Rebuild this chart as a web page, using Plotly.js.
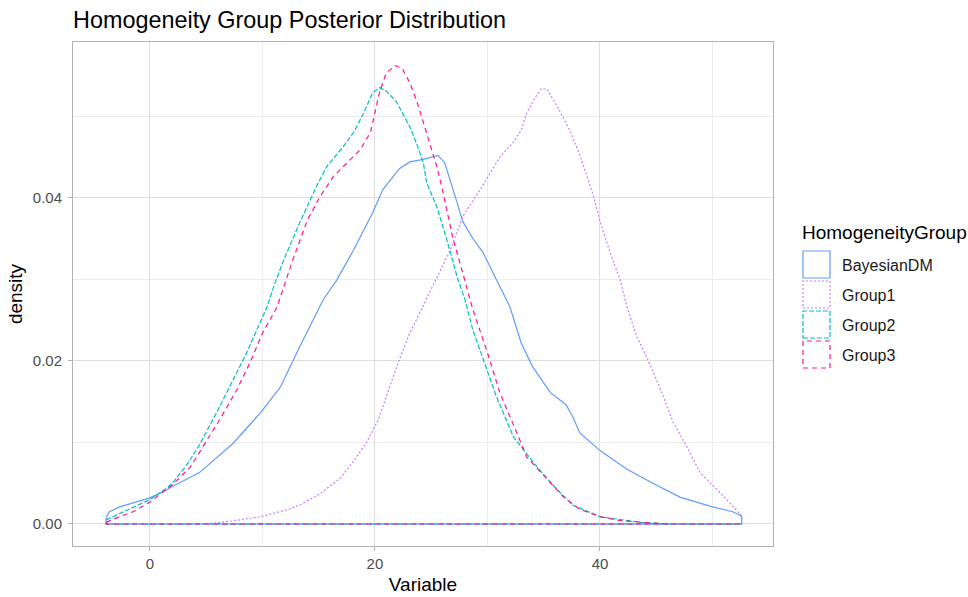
<!DOCTYPE html>
<html>
<head>
<meta charset="utf-8">
<script src="https://cdn.plot.ly/plotly-3.0.1.min.js"></script>
<style>
html,body{margin:0;padding:0;background:#fff;}
#chart{width:968px;height:597px;}
</style>
</head>
<body>
<div id="chart"></div>
<script>
// ---- data ----
const groups = ["BayesianDM", "Group1", "Group2", "Group3"];
const colors = ["#619CFF", "#C77CFF", "#00BFC4", "#FF1493"];
const dashes = ["solid", "2px,2px", "5px,2px", "5px,4px"];

const bayesX = [-3.9, -3.6, -2.7, -1.5, 0, 1.5, 2.0, 4.4, 7.4, 9.8, 11.6, 13.3, 15.4, 16.6, 18.1, 19.8, 20.7, 22.2, 23.1, 24.3, 25.6, 26.2, 26.7, 27.3, 27.8, 28.7, 29.6, 30.8, 32.0, 33.0, 34.0, 35.6, 37.0, 37.6, 38.2, 40.0, 42.4, 44.7, 47.1, 50.0, 51.8, 52.4, 52.6];
const bayesY = [0.0008, 0.0015, 0.0021, 0.0026, 0.0032, 0.0042, 0.0046, 0.0063, 0.0099, 0.0136, 0.0168, 0.0217, 0.0275, 0.0299, 0.0336, 0.0382, 0.0410, 0.0436, 0.0444, 0.0447, 0.0452, 0.0443, 0.0422, 0.0394, 0.0371, 0.0350, 0.0333, 0.0299, 0.0266, 0.0222, 0.0193, 0.0161, 0.0146, 0.0131, 0.0112, 0.0090, 0.0067, 0.0050, 0.0033, 0.0021, 0.0015, 0.0011, 0.0008];

const g1X = [-3.9, 4.0, 5.6, 7.5, 9.8, 12.1, 13.3, 15.1, 16.9, 18.2, 19.3, 20.3, 21.3, 22.2, 23.1, 24.0, 24.6, 25.5, 26.7, 27.8, 29.9, 31.1, 32.3, 33.0, 33.5, 34.2, 34.8, 35.3, 36.2, 37.3, 38.2, 39.4, 40.0, 40.9, 41.8, 42.4, 43.3, 44.2, 45.3, 46.5, 47.7, 48.9, 50.7, 52.4, 52.6];
const g1Y = [0, 0, 0.0001, 0.0004, 0.0009, 0.0017, 0.0023, 0.0037, 0.0056, 0.0079, 0.0101, 0.0128, 0.0168, 0.0203, 0.0234, 0.0260, 0.0277, 0.0303, 0.0336, 0.0377, 0.0422, 0.0450, 0.0468, 0.0483, 0.0504, 0.0522, 0.0534, 0.0533, 0.0512, 0.0483, 0.0453, 0.0403, 0.0371, 0.0333, 0.0299, 0.0266, 0.0229, 0.0203, 0.0168, 0.0125, 0.0095, 0.0063, 0.0038, 0.0013, 0.0010];

const g2X = [-3.9, -2.7, -1.5, 0, 1.5, 2.0, 3.3, 4.4, 5.9, 7.4, 8.6, 9.5, 10.4, 11.1, 11.9, 13.3, 14.8, 15.7, 17.2, 18.1, 19.0, 19.8, 20.4, 21.0, 21.9, 23.1, 23.8, 24.3, 24.6, 25.5, 26.4, 27.3, 28.0, 28.7, 29.6, 30.8, 32.3, 34.4, 36.2, 37.6, 40.0, 43.6, 46.0, 52.6];
const g2Y = [0.0005, 0.0013, 0.0020, 0.0030, 0.0044, 0.0050, 0.0073, 0.0097, 0.0136, 0.0177, 0.0210, 0.0238, 0.0266, 0.0295, 0.0324, 0.0369, 0.0414, 0.0438, 0.0463, 0.0480, 0.0504, 0.0529, 0.0535, 0.0531, 0.0518, 0.0487, 0.0463, 0.0443, 0.0418, 0.0389, 0.0348, 0.0303, 0.0275, 0.0238, 0.0203, 0.0156, 0.0107, 0.0070, 0.0042, 0.0023, 0.0009, 0.0002, 0, 0];

const g3X = [-3.9, -2.7, -1.5, 0, 1.5, 2.0, 3.6, 4.7, 6.2, 7.7, 8.9, 10.0, 11.3, 12.0, 12.7, 14.0, 15.1, 16.3, 17.5, 18.7, 19.6, 20.0, 20.4, 21.0, 21.8, 22.4, 23.1, 23.8, 24.3, 24.9, 25.5, 26.0, 26.9, 27.8, 28.7, 30.0, 31.1, 32.6, 33.5, 35.3, 36.7, 38.2, 40.0, 41.8, 44.4, 46.0, 52.6];
const g3Y = [0.0002, 0.0009, 0.0015, 0.0027, 0.0043, 0.0048, 0.0070, 0.0095, 0.0128, 0.0164, 0.0198, 0.0234, 0.0266, 0.0295, 0.0324, 0.0373, 0.0401, 0.0426, 0.0443, 0.0459, 0.0480, 0.0504, 0.0529, 0.0553, 0.0562, 0.0559, 0.0541, 0.0515, 0.0492, 0.0467, 0.0438, 0.0410, 0.0352, 0.0308, 0.0263, 0.0210, 0.0161, 0.0112, 0.0082, 0.0055, 0.0034, 0.0018, 0.0009, 0.0004, 0.0001, 0, 0];

const seriesX = [bayesX, g1X, g2X, g3X];
const seriesY = [bayesY, g1Y, g2Y, g3Y];

const xTickVals = [0, 20, 40];
const yTickVals = [0, 0.02, 0.04];
const yTickText = ["0.00", "0.02", "0.04"];

// ---- build closed density outlines (like ggplot's geom_density polygon) ----
function closed(xs, ys) {
  const n = xs.length;
  return {
    x: xs.concat([xs[n - 1], xs[0], xs[0]]),
    y: ys.concat([0, 0, ys[0]])
  };
}

const traces = groups.map((g, i) => {
  const c = closed(seriesX[i], seriesY[i]);
  return {
    type: "scatter", mode: "lines", name: g,
    x: c.x, y: c.y,
    line: { color: colors[i], width: 1.2, dash: dashes[i], shape: "linear" },
    hoverinfo: "skip", showlegend: false
  };
});

// ---- geometry of plot area ----
const L = 73, R = 773, T = 42, B = 546;
const W = 968, H = 597;
const pw = R - L, ph = B - T;
const px2x = p => (p - L) / pw;
const py2y = p => (B - p) / ph;
const FONT = "Liberation Sans, Arial, sans-serif";

// custom legend (boxes like ggplot density keys)
const shapes = [];
const annotations = [];
annotations.push({
  xref: "paper", yref: "paper", x: px2x(800), y: py2y(232),
  xanchor: "left", yanchor: "middle", showarrow: false,
  text: "HomogeneityGroup",
  font: { family: FONT, size: 19, color: "#000000" }
});
groups.forEach((g, i) => {
  const top = 251 + 30 * i, bot = 278 + 30 * i;
  shapes.push({
    type: "rect", xref: "paper", yref: "paper",
    x0: px2x(803), x1: px2x(830), y0: py2y(bot), y1: py2y(top),
    line: { color: colors[i], width: 1.2, dash: dashes[i] },
    fillcolor: "rgba(0,0,0,0)"
  });
  annotations.push({
    xref: "paper", yref: "paper", x: px2x(840), y: py2y((top + bot) / 2 + 1),
    xanchor: "left", yanchor: "middle", showarrow: false,
    text: g,
    font: { family: FONT, size: 16, color: "#1a1a1a" }
  });
});

const layout = {
  width: W, height: H,
  margin: { l: L, r: W - R, t: T, b: H - B, pad: 0 },
  paper_bgcolor: "#ffffff", plot_bgcolor: "#ffffff",
  showlegend: false,
  font: { family: FONT, color: "#000000" },
  title: {
    text: "Homogeneity Group Posterior Distribution",
    x: 0, xref: "paper", xanchor: "left",
    y: 1 - 20 / H, yref: "container", yanchor: "middle",
    font: { family: FONT, size: 23.4, color: "#000000" }
  },
  xaxis: {
    range: [-6.84, 55.38],
    tickvals: xTickVals, ticktext: xTickVals.map(String),
    ticks: "outside", ticklen: 4, tickcolor: "#b3b3b3", tickwidth: 1,
    tickfont: { size: 15, color: "#4d4d4d" },
    showgrid: true, gridcolor: "#dedede", gridwidth: 1,
    minor: { tickvals: [10, 30, 50], showgrid: true, gridcolor: "#ebebeb", gridwidth: 1, ticks: "" },
    zeroline: false,
    showline: true, mirror: true, linecolor: "#b3b3b3", linewidth: 1,
    title: { text: "Variable", standoff: 6, font: { size: 19, color: "#000000" } },
    automargin: false
  },
  yaxis: {
    range: [-0.0027, 0.0591],
    tickvals: yTickVals, ticktext: yTickText,
    ticks: "outside", ticklen: 4, tickcolor: "#b3b3b3", tickwidth: 1,
    ticklabelstandoff: 3,
    tickfont: { size: 15, color: "#4d4d4d" },
    showgrid: true, gridcolor: "#dedede", gridwidth: 1,
    minor: { tickvals: [0.01, 0.03, 0.05], showgrid: true, gridcolor: "#ebebeb", gridwidth: 1, ticks: "" },
    zeroline: false,
    showline: true, mirror: true, linecolor: "#b3b3b3", linewidth: 1,
    title: { text: "density", standoff: 5, font: { size: 19, color: "#000000" } },
    automargin: false
  },
  shapes: shapes,
  annotations: annotations
};

Plotly.newPlot("chart", traces, layout, { staticPlot: true, displayModeBar: false });
</script>
</body>
</html>
